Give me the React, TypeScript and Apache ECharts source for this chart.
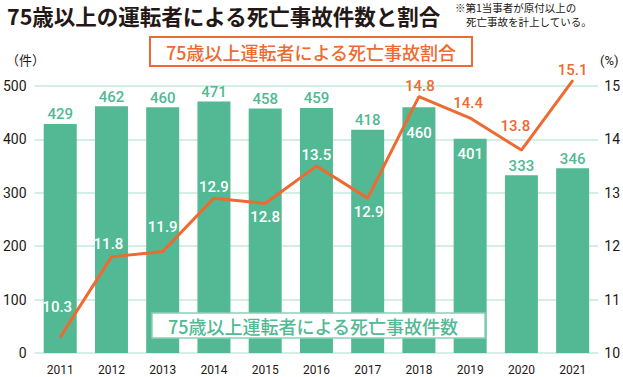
import React, { useEffect, useRef } from "react";
import * as echarts from "echarts";

const years = ["2011", "2012", "2013", "2014", "2015", "2016", "2017", "2018", "2019", "2020", "2021"];
const counts = [429, 462, 460, 471, 458, 459, 418, 460, 401, 333, 346];
const ratios = [10.3, 11.8, 11.9, 12.9, 12.8, 13.5, 12.9, 14.8, 14.4, 13.8, 15.1];
const leftTicks = [0, 100, 200, 300, 400, 500];
const rightTicks = [10, 11, 12, 13, 14, 15];

const titleText = "75歳以上の運転者による死亡事故件数と割合";
const noteLine1 = "※第1当事者が原付以上の";
const noteLine2 = "死亡事故を計上している。";
const ratioLegend = "75歳以上運転者による死亡事故割合";
const countLegend = "75歳以上運転者による死亡事故件数";

const GREEN = "#52b994";
const ORANGE = "#ee6a30";
const GRID = "#c6e9da";
const TEXT = "#231815";
const NUM_FONT = 'Roboto, "Noto Sans CJK JP", sans-serif';
const JP_FONT = '"Noto Sans CJK JP", sans-serif';

// per-point label styling (index-keyed, presentation only)
const barLabelInside = [false, false, false, false, false, false, false, true, true, false, false];
const barInsideDistance = [0, 0, 0, 0, 0, 0, 0, 18, 8, 0, 0];
const lineLabelOffsets: [number, number][] = [
  [-3, -30], [-3, -13], [0, -25], [0, -11], [0, 14], [0, -11],
  [1, 14], [1, -11], [-2, -15], [-6, -24], [0, -11],
];
const lineLabelWhite = [true, true, true, true, true, true, true, false, false, false, false];

export default function App() {
  const ref = useRef<HTMLDivElement>(null);
  useEffect(() => {
    if (!ref.current) return;
    const chart = echarts.init(ref.current, null, { renderer: "svg" });
    const barData = counts.map((v, i) => ({
      value: v,
      label: barLabelInside[i]
        ? { show: true, position: "insideTop", distance: barInsideDistance[i], color: "#ffffff" }
        : { show: true, position: "top", distance: 2, color: GREEN },
    }));
    const lineData = ratios.map((v, i) => ({
      value: v,
      label: {
        show: true,
        position: "inside",
        offset: lineLabelOffsets[i],
        color: lineLabelWhite[i] ? "#ffffff" : ORANGE,
      },
    }));
    chart.setOption({
      animation: false,
      textStyle: { fontFamily: NUM_FONT },
      grid: { left: 34, right: 24, top: 86, bottom: 24, containLabel: false },
      xAxis: {
        type: "category",
        data: years,
        axisLine: { show: false },
        axisTick: { show: false },
        axisLabel: { color: TEXT, fontSize: 12, margin: 11, fontFamily: NUM_FONT },
      },
      yAxis: [
        {
          type: "value",
          min: leftTicks[0],
          max: leftTicks[leftTicks.length - 1],
          interval: 100,
          axisLine: { show: false },
          axisTick: { show: false },
          splitLine: { lineStyle: { color: GRID, width: 1.5 } },
          axisLabel: { color: TEXT, fontSize: 14, margin: 8, fontFamily: NUM_FONT },
        },
        {
          type: "value",
          min: rightTicks[0],
          max: rightTicks[rightTicks.length - 1],
          interval: 1,
          axisLine: { show: false },
          axisTick: { show: false },
          splitLine: { show: false },
          axisLabel: { color: TEXT, fontSize: 14, margin: 6, fontFamily: NUM_FONT },
        },
      ],
      series: [
        {
          type: "bar",
          data: barData,
          barWidth: 33,
          itemStyle: { color: GREEN },
          label: { fontSize: 15, fontWeight: 500, fontFamily: NUM_FONT },
          z: 2,
        },
        {
          type: "line",
          yAxisIndex: 1,
          data: lineData,
          clip: false,
          symbol: "circle",
          symbolSize: 2,
          showSymbol: true,
          itemStyle: { color: ORANGE },
          lineStyle: { color: ORANGE, width: 3 },
          label: { fontSize: 15, fontWeight: 500, fontFamily: NUM_FONT },
          z: 3,
        },
      ],
      graphic: [
        {
          type: "text",
          left: 7,
          top: 3,
          style: { text: titleText, fontSize: 21.5, lineHeight: 24, fontWeight: "bold", fill: TEXT, fontFamily: JP_FONT },
        },
        {
          type: "text",
          left: 455,
          top: 1,
          style: { text: noteLine1, fontSize: 10.5, lineHeight: 12, fill: TEXT, fontFamily: JP_FONT },
        },
        {
          type: "text",
          left: 466,
          top: 15,
          style: { text: noteLine2, fontSize: 10.5, lineHeight: 12, fill: TEXT, fontFamily: JP_FONT },
        },
        {
          type: "text",
          left: 6,
          top: 53,
          style: { text: "（件）", fontSize: 13, fill: TEXT, fontFamily: JP_FONT },
        },
        {
          type: "text",
          left: 600,
          top: 54,
          style: { text: "(%)", fontSize: 13, fill: TEXT, fontFamily: NUM_FONT },
        },
        {
          type: "rect",
          z: 100,
          shape: { x: 150, y: 37, width: 322, height: 29 },
          style: { fill: "#ffffff", stroke: ORANGE, lineWidth: 2 },
        },
        {
          type: "text",
          z: 101,
          x: 311,
          y: 52,
          style: {
            text: ratioLegend,
            fontSize: 18,
            fontWeight: 500,
            fill: ORANGE,
            align: "center",
            verticalAlign: "middle",
            fontFamily: JP_FONT,
          },
        },
        {
          type: "rect",
          z: 100,
          shape: { x: 152, y: 313, width: 333, height: 25 },
          style: { fill: "#ffffff", stroke: "#8fd0b6", lineWidth: 1.5 },
        },
        {
          type: "text",
          z: 101,
          x: 313,
          y: 326,
          style: {
            text: countLegend,
            fontSize: 18,
            fontWeight: 500,
            fill: GREEN,
            align: "center",
            verticalAlign: "middle",
            fontFamily: JP_FONT,
          },
        },
      ],
    });
    return () => chart.dispose();
  }, []);
  return (
    <div
      ref={ref}
      style={{ position: "absolute", left: 0, top: 0, width: 623, height: 377, background: "#ffffff" }}
    />
  );
}
